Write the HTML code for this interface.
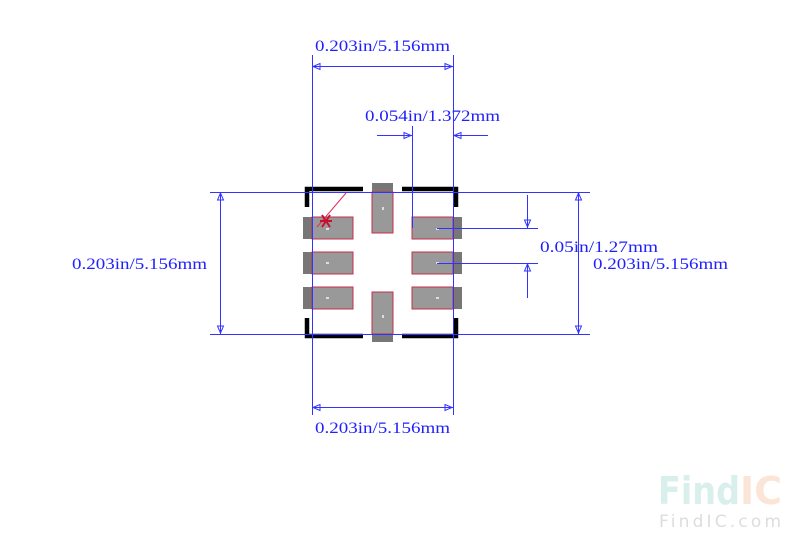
<!DOCTYPE html>
<html><head><meta charset="utf-8"><style>
html,body{margin:0;padding:0;background:#fff;width:800px;height:547px;overflow:hidden}
svg text{font-family:"Liberation Serif","DejaVu Serif",serif;fill:#2020ff;font-size:16px}
</style></head><body>
<svg width="800" height="547" viewBox="0 0 800 547" xmlns="http://www.w3.org/2000/svg">
<g>
<rect x="303" y="217" width="50" height="22" fill="#777"/><rect x="312" y="217" width="41" height="22" fill="#999" stroke="#c0304a" stroke-width="1"/>
<rect x="303" y="252" width="50" height="22" fill="#777"/><rect x="312" y="252" width="41" height="22" fill="#999" stroke="#c0304a" stroke-width="1"/>
<rect x="303" y="287" width="50" height="22" fill="#777"/><rect x="312" y="287" width="41" height="22" fill="#999" stroke="#c0304a" stroke-width="1"/>
<rect x="412" y="217" width="50" height="22" fill="#777"/><rect x="412" y="217" width="41" height="22" fill="#999" stroke="#c0304a" stroke-width="1"/>
<rect x="412" y="252" width="50" height="22" fill="#777"/><rect x="412" y="252" width="41" height="22" fill="#999" stroke="#c0304a" stroke-width="1"/>
<rect x="412" y="287" width="50" height="22" fill="#777"/><rect x="412" y="287" width="41" height="22" fill="#999" stroke="#c0304a" stroke-width="1"/>
<rect x="372" y="183" width="21" height="50" fill="#777"/><rect x="372" y="192" width="21" height="41" fill="#999" stroke="#c0304a" stroke-width="1"/>
<rect x="372" y="292" width="21" height="50" fill="#777"/><rect x="372" y="292" width="21" height="42" fill="#999" stroke="#c0304a" stroke-width="1"/>
</g>
<g fill="#ddd">
<rect x="326" y="228" width="3" height="2"/><rect x="326" y="262" width="3" height="2"/><rect x="326" y="297" width="3" height="2"/>
<rect x="436" y="228" width="3" height="2"/><rect x="436" y="262" width="3" height="2"/><rect x="436" y="297" width="3" height="2"/>
<rect x="382" y="207" width="2" height="3"/><rect x="382" y="315" width="2" height="3"/>
</g>
<g stroke="#000" stroke-width="4.5" fill="none">
<polyline points="307,207 307,189 363,189"/>
<polyline points="402,189 456,189 456,207"/>
<polyline points="307,318 307,336 363,336"/>
<polyline points="402,336 456,336 456,318"/>
</g>
<line x1="317" y1="227" x2="346" y2="193" stroke="#e0305a" stroke-width="1"/>
<g stroke="#c8102e" stroke-width="2"><line x1="320" y1="221" x2="332" y2="221"/><line x1="322" y1="215" x2="330" y2="227"/><line x1="330" y1="215" x2="322" y2="227"/></g>
<g stroke="#3333ff" stroke-width="1" fill="none">
<line x1="312.5" y1="55" x2="312.5" y2="415"/>
<line x1="453.5" y1="55" x2="453.5" y2="415"/>
<line x1="210" y1="192.5" x2="590" y2="192.5"/>
<line x1="210" y1="334.5" x2="590" y2="334.5"/>
<line x1="312" y1="66.5" x2="453" y2="66.5"/>
<line x1="312" y1="407.5" x2="453" y2="407.5"/>
<line x1="220.5" y1="192" x2="220.5" y2="334"/>
<line x1="578.5" y1="192" x2="578.5" y2="334"/>
<line x1="412.5" y1="126" x2="412.5" y2="228"/>
<line x1="377" y1="135.5" x2="412" y2="135.5"/>
<line x1="453" y1="135.5" x2="488" y2="135.5"/>
<line x1="437" y1="228.5" x2="538" y2="228.5"/>
<line x1="437" y1="263.5" x2="538" y2="263.5"/>
<line x1="527.5" y1="195" x2="527.5" y2="228"/>
<line x1="527.5" y1="263" x2="527.5" y2="298"/>
<polygon points="313,66.5 320,63.5 320,69.5"/>
<polygon points="452,66.5 445,63.5 445,69.5"/>
<polygon points="313,407.5 320,404.5 320,410.5"/>
<polygon points="452,407.5 445,404.5 445,410.5"/>
<polygon points="220.5,193 217.5,200 223.5,200"/>
<polygon points="220.5,333 217.5,326 223.5,326"/>
<polygon points="578.5,193 575.5,200 581.5,200"/>
<polygon points="578.5,333 575.5,326 581.5,326"/>
<polygon points="411,135.5 404,132.5 404,138.5"/>
<polygon points="454,135.5 461,132.5 461,138.5"/>
<polygon points="527.5,227 524.5,220 530.5,220"/>
<polygon points="527.5,264 524.5,271 530.5,271"/>
</g>
<text x="315" y="51" textLength="135" lengthAdjust="spacingAndGlyphs">0.203in/5.156mm</text>
<text x="365" y="121" textLength="135" lengthAdjust="spacingAndGlyphs">0.054in/1.372mm</text>
<text x="72" y="269" textLength="135" lengthAdjust="spacingAndGlyphs">0.203in/5.156mm</text>
<text x="540" y="252" textLength="118" lengthAdjust="spacingAndGlyphs">0.05in/1.27mm</text>
<text x="593" y="269" textLength="135" lengthAdjust="spacingAndGlyphs">0.203in/5.156mm</text>
<text x="315" y="433" textLength="135" lengthAdjust="spacingAndGlyphs">0.203in/5.156mm</text>
<text x="658" y="504" style="font-family:'DejaVu Sans',sans-serif;font-weight:bold;font-size:38px;fill:#d9efec" textLength="82" lengthAdjust="spacingAndGlyphs">Find</text>
<text x="740" y="504" style="font-family:'DejaVu Sans',sans-serif;font-weight:bold;font-size:38px;fill:#fbe5d6" textLength="42" lengthAdjust="spacingAndGlyphs">IC</text>
<text x="659" y="527" style="font-family:'DejaVu Sans',sans-serif;font-size:17px;fill:#ddd" textLength="122">FindIC.com</text>
</svg>
</body></html>
